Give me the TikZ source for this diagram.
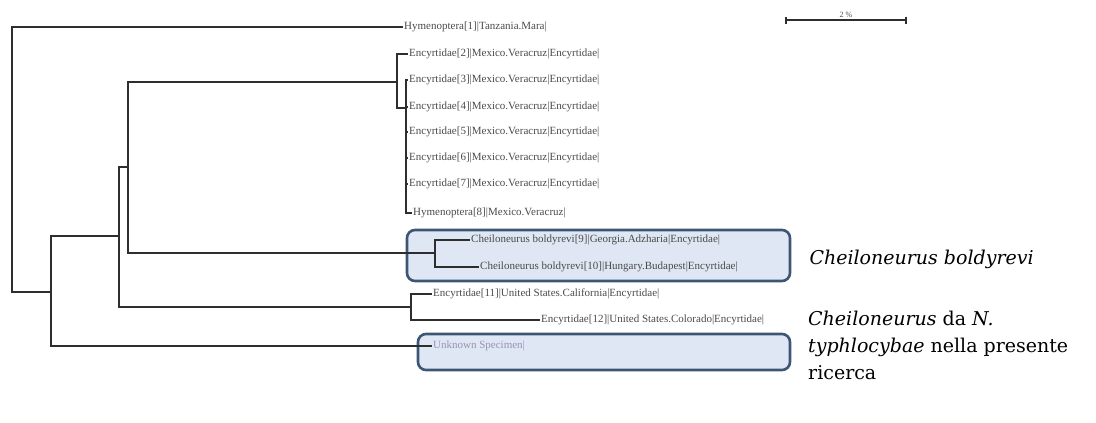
\documentclass[tikz,border=0pt]{standalone}
\usepackage{fontspec}
\setmainfont{Liberation Serif}
\newfontfamily\slabfont{DejaVu Serif}
\usepackage{xcolor}
\usepackage{tikz}
\usetikzlibrary{arrows.meta,positioning}
\definecolor{treeline}{HTML}{2E2E2E}
\definecolor{leaftext}{HTML}{4A4A4A}
\definecolor{unknowntext}{HTML}{9A92B2}
\definecolor{boxedge}{HTML}{3E5675}
\definecolor{boxfill}{HTML}{DEE7F3}

\begin{document}
\begin{tikzpicture}[
    x=1pt,y=-1pt,
    branch/.style={draw=treeline,line width=1.4pt},
    leaf/.style={anchor=west,inner sep=0pt,inner xsep=1pt,text=leaftext,font=\fontsize{11}{12}\selectfont},
    hlbox/.style={draw=boxedge,line width=2.6pt,rounded corners=8pt,fill=boxfill,inner sep=0pt},
    cladelab/.style={anchor=west,inner sep=0pt,font=\slabfont\fontsize{19}{27}\selectfont,align=left},
    scalebar/.style={{Bar[width=7pt]}-{Bar[width=7pt]},draw=treeline,line width=1.6pt}
]
    \useasboundingbox (0,0) rectangle (1096,423);

    % highlight boxes
    \node[hlbox,minimum width=383pt,minimum height=51pt] (boxche) at (598.5,255.5) {};
    \node[hlbox,minimum width=372pt,minimum height=36pt] (boxunk) at (604,352) {};

    % leaves
    \node[leaf] (h1) at (403,27) {Hymenoptera[1]|Tanzania.Mara|};
    \node[leaf] (e2) at (408,54) {Encyrtidae[2]|Mexico.Veracruz|Encyrtidae|};
    \node[leaf] (e3) at (408,80) {Encyrtidae[3]|Mexico.Veracruz|Encyrtidae|};
    \node[leaf] (e4) at (408,107) {Encyrtidae[4]|Mexico.Veracruz|Encyrtidae|};
    \node[leaf] (e5) at (408,132) {Encyrtidae[5]|Mexico.Veracruz|Encyrtidae|};
    \node[leaf] (e6) at (408,158) {Encyrtidae[6]|Mexico.Veracruz|Encyrtidae|};
    \node[leaf] (e7) at (408,184) {Encyrtidae[7]|Mexico.Veracruz|Encyrtidae|};
    \node[leaf] (h8) at (412,213) {Hymenoptera[8]|Mexico.Veracruz|};
    \node[leaf] (c9) at (470,240) {Cheiloneurus boldyrevi[9]|Georgia.Adzharia|Encyrtidae|};
    \node[leaf] (c10) at (479,267) {Cheiloneurus boldyrevi[10]|Hungary.Budapest|Encyrtidae|};
    \node[leaf] (e11) at (432,294) {Encyrtidae[11]|United States.California|Encyrtidae|};
    \node[leaf] (e12) at (540,320) {Encyrtidae[12]|United States.Colorado|Encyrtidae|};
    \node[leaf,text=unknowntext] (unk) at (432,346) {Unknown Specimen|};

    % internal nodes
    \coordinate (root) at (12,159);
    \coordinate (nall) at (51,292);
    \coordinate (ningr) at (119,236);
    \coordinate (ncore) at (128,167);
    \coordinate (nenc) at (397,82);
    \coordinate (nmex) at (406,108);
    \coordinate (nche) at (435,253);
    \coordinate (nusa) at (411,307);

    \draw[branch] (root) |- (h1.west);
    \draw[branch] (root) |- (nall);
    \draw[branch] (nall) |- (ningr);
    \draw[branch] (nall) |- (unk.west);
    \draw[branch] (ningr) |- (ncore);
    \draw[branch] (ningr) |- (nusa);
    \draw[branch] (ncore) |- (nenc);
    \draw[branch] (ncore) |- (nche);
    \draw[branch] (nenc) |- (e2.west);
    \draw[branch] (nenc) |- (nmex);
    \draw[branch] (nmex) |- (e3.west);
    \draw[branch] (nmex) |- (e4.west);
    \draw[branch] (nmex) |- (e5.west);
    \draw[branch] (nmex) |- (e6.west);
    \draw[branch] (nmex) |- (e7.west);
    \draw[branch] (nmex) |- (h8.west);
    \draw[branch] (nche) |- (c9.west);
    \draw[branch] (nche) |- (c10.west);
    \draw[branch] (nusa) |- (e11.west);
    \draw[branch] (nusa) |- (e12.west);

    % scale bar
    \coordinate (sbl) at (785,20);
    \coordinate (sbr) at (907,20);
    \draw[scalebar] (sbl) -- (sbr) node[midway,above=1.5pt,inner sep=0pt,text=leaftext,font=\fontsize{8}{9}\selectfont] (sbtext) {2 \%};

    % clade labels
    \node[cladelab,right=18pt of boxche,yshift=-4pt] (labche) {\textit{Cheiloneurus boldyrevi}};
    \node[cladelab,anchor=north west] (labunk) at (808,311) {\textit{Cheiloneurus} da \textit{N.}\\\textit{typhlocybae} nella presente\\ricerca};
\end{tikzpicture}
\end{document}
